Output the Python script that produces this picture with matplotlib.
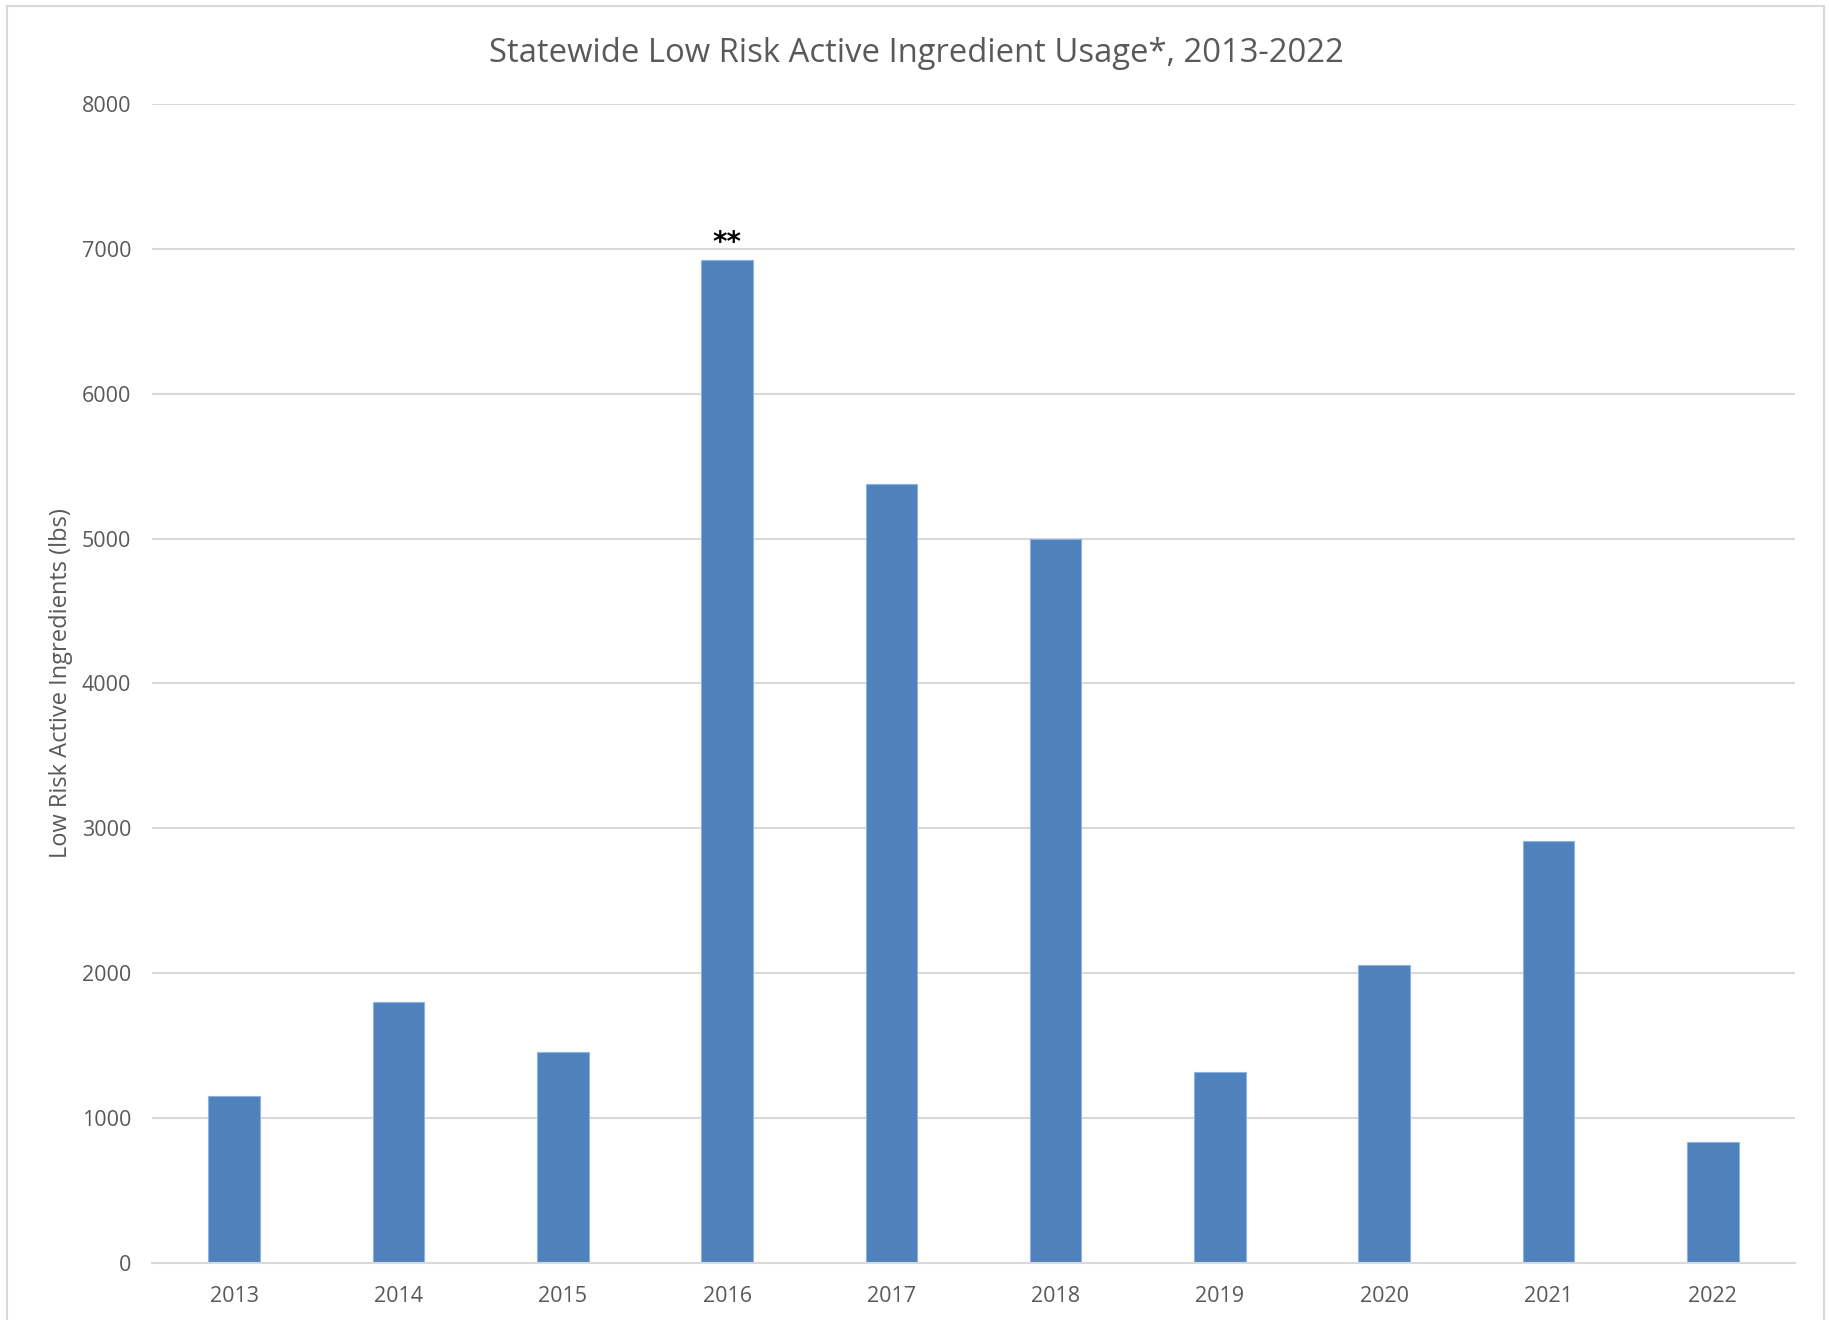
import matplotlib
matplotlib.use("Agg")
import matplotlib.pyplot as plt
from matplotlib.patches import Rectangle

# Statewide low risk active ingredient usage (lbs), 2013-2022
years = ["2013", "2014", "2015", "2016", "2017", "2018", "2019", "2020", "2021", "2022"]
usage_lbs = [1153, 1798, 1457, 6923, 5376, 4996, 1315, 2056, 2912, 830]
y_ticks = [0, 1000, 2000, 3000, 4000, 5000, 6000, 7000, 8000]
flag_year = "2016"
flag_text = "**"

title = "Statewide Low Risk Active Ingredient Usage*, 2013-2022"
y_label = "Low Risk Active Ingredients (lbs)"

plt.rcParams["font.family"] = ["Open Sans", "DejaVu Sans"]

W, H = 1829, 1320
fig = plt.figure(figsize=(W / 100, H / 100), dpi=100)
fig.patch.set_facecolor("white")

ax = fig.add_axes([152 / W, 1 - 1262.7 / H, (1795 - 152) / W, (1262.7 - 104) / H])
text_gray = "#595959"
grid_gray = "#d9d9d9"

x = list(range(len(years)))
bars = ax.bar(x, usage_lbs, width=0.314, color="#4f81bd",
              edgecolor="#8db3e2", linewidth=0.8, zorder=3)

ax.set_xlim(-0.5, len(years) - 0.5)
ax.set_ylim(0, 8000)
ax.set_yticks(y_ticks)
ax.set_yticklabels([str(v) for v in y_ticks])
ax.set_xticks(x)
ax.set_xticklabels(years)

ax.yaxis.grid(True, color=grid_gray, linewidth=1.5, zorder=0)
ax.xaxis.grid(False)
for side in ["top", "right", "left"]:
    ax.spines[side].set_visible(False)
ax.spines["bottom"].set_color(grid_gray)
ax.spines["bottom"].set_linewidth(1.5)
ax.spines["bottom"].set_zorder(4)

ax.tick_params(axis="both", length=0, labelsize=15.5, labelcolor=text_gray)
ax.tick_params(axis="y", pad=15)
ax.tick_params(axis="x", pad=16.5)

ax.set_ylabel(y_label, fontsize=17, color=text_gray, labelpad=6)

# Footnote marker above the flagged bar
i = years.index(flag_year)
ax.annotate(flag_text, xy=(i, usage_lbs[i]), xytext=(0, 2),
            textcoords="offset points", ha="center", va="bottom",
            fontsize=20, fontweight="bold", color="black",
            fontfamily="DejaVu Sans")

fig.text(916 / W, 1 - 54 / H, title, ha="center", va="center",
         fontsize=23.6, color=text_gray)

# Chart frame
fig.patches.append(Rectangle((7 / W, -0.01), (1824 - 7) / W, 1 - 6 / H + 0.01,
                             transform=fig.transFigure, fill=False,
                             edgecolor="#d9d9d9", linewidth=1.5))

fig.savefig("out.png", dpi=100, facecolor="white")
